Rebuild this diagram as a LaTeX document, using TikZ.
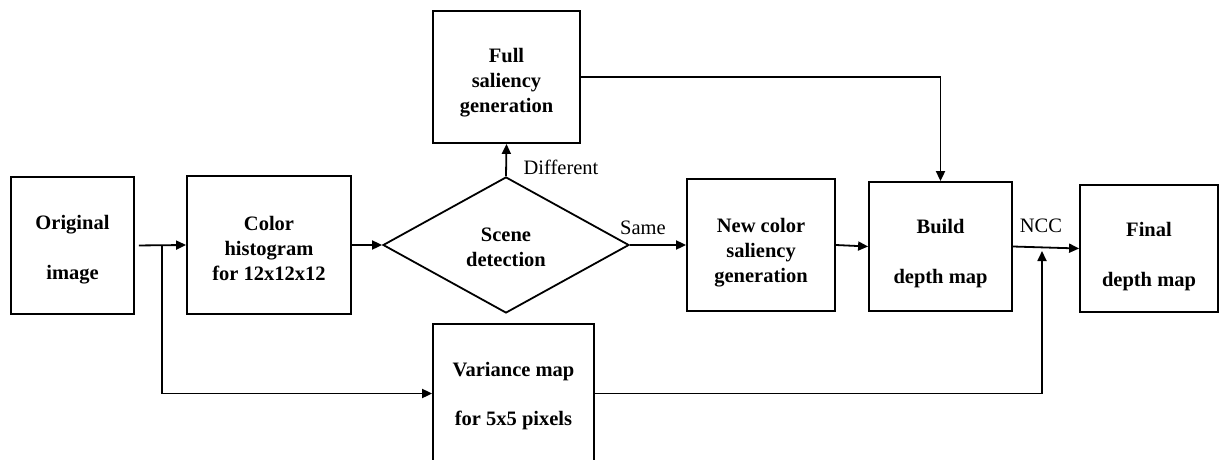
\documentclass[tikz,border=0pt]{standalone}
\usepackage{fontspec}
\setmainfont{Liberation Serif}
\usetikzlibrary{shapes.geometric,arrows.meta,calc}
\begin{document}
\begin{tikzpicture}[x=1pt,y=-1pt,
  box/.style={draw,line width=1.8pt,inner sep=0pt},
  txt/.style={inner sep=0pt,align=center,
    font=\fontsize{20.5}{25}\selectfont\bfseries},
  lbl/.style={inner sep=0pt,font=\fontsize{20.5}{25}\selectfont},
  arr/.style={line width=1.8pt,-{Triangle[length=10pt,width=9pt]}}]
\useasboundingbox (0,0) rectangle (1220,460);
\clip (0,0) rectangle (1220,460);
% boxes
\node[box,minimum width=123pt,minimum height=137pt] (orig) at (72.5,245.5) {};
\node[box,minimum width=164pt,minimum height=138pt] (hist) at (269,245) {};
\node[box,minimum width=147pt,minimum height=132pt] (full) at (506.5,77) {};
\node[box,shape=diamond,minimum width=246pt,minimum height=136pt] (scene) at (506,245) {};
\node[box,minimum width=148pt,minimum height=132pt] (newc) at (761,245) {};
\node[box,minimum width=143pt,minimum height=129pt] (build) at (940.5,246.5) {};
\node[box,minimum width=138pt,minimum height=127pt] (final) at (1149,248.5) {};
\node[box,minimum width=161pt,minimum height=139pt] (var) at (513.5,393.5) {};
% texts
\node[txt] (origt) at ($(orig)+(0,4)$) {Original\\[25pt]image};
\node[txt] (histt) at ($(hist)+(0,3)$) {Color\\histogram\\for 12x12x12};
\node[txt] (fullt) at ($(full)+(0,6)$) {Full\\saliency\\generation};
\node[txt] (scenet) at ($(scene)+(0,2)$) {Scene\\detection};
\node[txt] (newct) at ($(newc)+(0,8)$) {New color\\saliency\\generation};
\node[txt] (buildt) at ($(build)+(0,7)$) {Build\\[25pt]depth map};
\node[txt] (finalt) at ($(final)+(0,8.5)$) {Final\\[25pt]depth map};
\node[txt] (vart) at ($(var)+(0,3)$) {Variance map\\[24pt]for 5x5 pixels};
% connectors
\coordinate (br) at (162,246);
\coordinate (jn) at (1042,251);
\draw[arr,shorten <=4pt] (orig.east) -- (hist.west);
\draw[arr] (br) |- (var.west);
\draw[arr] (hist.east) -- (scene.west);
\draw[arr] (scene.north) -- (full.south);
\draw[arr] (scene.east) -- (newc.west);
\draw[arr] (newc.east) -- (build.west);
\draw[arr] (full.east) -| (build.north);
\draw[arr] (build.east) -- (final.west);
\draw[arr] (var.east) -| (jn);
% labels
\node[lbl] (ldiff) at (561,167) {Different};
\node[lbl] (lsame) at (643,228) {Same};
\node[lbl] (lncc) at (1041,226) {NCC};
\end{tikzpicture}
\end{document}
